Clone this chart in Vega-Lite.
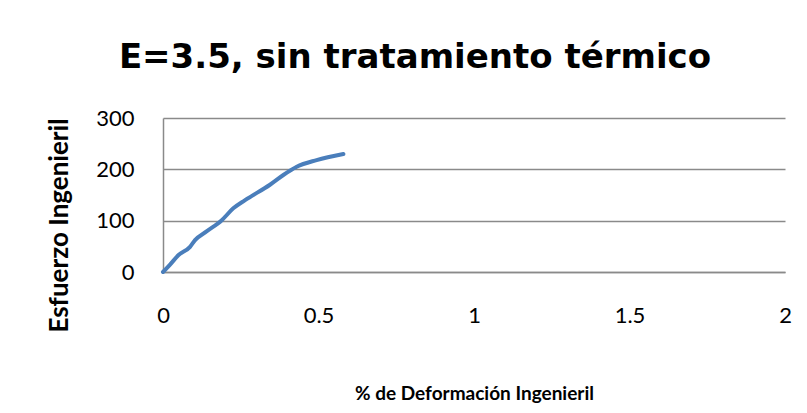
{
  "$schema": "https://vega.github.io/schema/vega-lite/v6.json",
  "autosize": "none",
  "width": 622,
  "height": 154,
  "padding": {"left": 163, "top": 118, "right": 22, "bottom": 141},
  "background": "white",
  "title": {
    "text": "E=3.5, sin tratamiento térmico",
    "font": "DejaVu Sans",
    "fontSize": 34,
    "fontWeight": "bold",
    "color": "#000000",
    "anchor": "middle",
    "frame": "group",
    "baseline": "alphabetic",
    "dx": -59,
    "offset": 5
  },
  "config": {
    "view": {"stroke": null},
    "font": "Lato"
  },
  "data": {
    "values": [
      {"x": 0.0, "y": 0},
      {"x": 0.022, "y": 14},
      {"x": 0.05, "y": 33},
      {"x": 0.087, "y": 49},
      {"x": 0.103, "y": 62},
      {"x": 0.14, "y": 79},
      {"x": 0.189, "y": 101},
      {"x": 0.226, "y": 124},
      {"x": 0.264, "y": 140},
      {"x": 0.344, "y": 170},
      {"x": 0.387, "y": 189},
      {"x": 0.43, "y": 205},
      {"x": 0.494, "y": 218},
      {"x": 0.58, "y": 230}
    ]
  },
  "mark": {"type": "line", "color": "#4a7ebb", "strokeWidth": 4, "interpolate": "monotone", "strokeCap": "round", "strokeJoin": "round"},
  "encoding": {
    "x": {
      "field": "x",
      "type": "quantitative",
      "scale": {"domain": [0, 2], "nice": false, "zero": true},
      "axis": {
        "title": "% de Deformación Ingenieril",
        "values": [0, 0.5, 1, 1.5, 2],
        "format": "~g",
        "grid": false,
        "ticks": false,
        "domain": true,
        "domainColor": "#8a8a8a",
        "domainWidth": 1.5,
        "labelFont": "Lato",
        "labelFontSize": 22,
        "labelColor": "#000000",
        "labelPadding": 33,
        "labelFlush": false,
        "labelOverlap": false,
        "titleFont": "Lato",
        "titleFontSize": 19,
        "titleFontWeight": "bold",
        "titleColor": "#000000",
        "titleBaseline": "alphabetic",
        "titleX": 311,
        "titleY": 127
      }
    },
    "y": {
      "field": "y",
      "type": "quantitative",
      "scale": {"domain": [0, 300], "nice": false},
      "axis": {
        "title": "Esfuerzo Ingenieril",
        "values": [0, 100, 200, 300],
        "grid": true,
        "gridColor": "#8a8a8a",
        "gridWidth": 1.5,
        "ticks": false,
        "domain": true,
        "domainColor": "#8a8a8a",
        "domainWidth": 1.5,
        "labelFont": "Lato",
        "labelFontSize": 22,
        "labelColor": "#000000",
        "labelPadding": 29,
        "labelFlush": false,
        "labelOverlap": false,
        "titleFont": "Lato",
        "titleFontSize": 26,
        "titleFontWeight": "bold",
        "titleColor": "#000000",
        "titleAngle": -90,
        "titleAlign": "center",
        "titleBaseline": "middle",
        "titleX": -104,
        "titleY": 107
      }
    }
  }
}
